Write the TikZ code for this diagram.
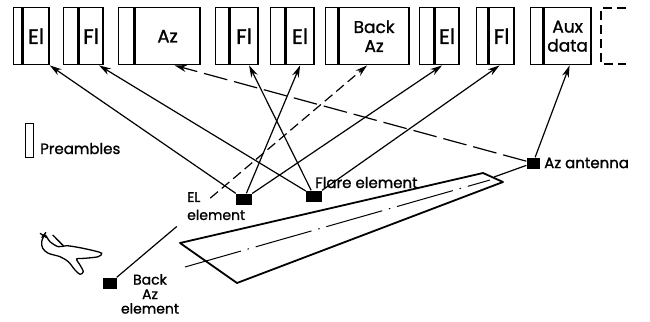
\documentclass[tikz,border=0pt]{standalone}
\usepackage{fontspec}
\setmainfont{Poppins}[FakeBold=1.2]
\usetikzlibrary{arrows.meta, positioning, calc}

\begin{document}
\begin{tikzpicture}[x=1pt, y=-1pt,
    pre/.style={draw=black, line width=1.4pt, minimum height=57pt, inner sep=0pt, anchor=north west},
    slot/.style={draw=black, line width=1.4pt, minimum height=57pt, inner sep=0pt, align=center},
    elem/.style={fill=black, minimum width=16pt, minimum height=11pt, inner sep=0pt},
    wire/.style={line width=1.2pt},
    link/.style={wire, -{Stealth[length=12pt, width=7pt]}},
    tag/.style={font=\fontsize{15}{16}\selectfont, inner sep=0pt}]
    \useasboundingbox (0,0) rectangle (650,321);

    % frame slots: preamble strip + data field
    \foreach \n/\xa/\xb/\xc/\fs/\txt in {1/13/21/47/21/El, 2/63/77/101/21/Fl, 3/118/133/198/18/Az,
        4/215/228/256/21/Fl, 5/270/284/312/21/El, 6/325/337/407/17/{Back\\Az},
        7/419/433/457/21/El, 8/476/487/512/21/Fl, 9/530/542/589/17/{Aux\\data}} {
        \node[pre, minimum width={(\xb-\xa)*1pt}] (pre\n) at (\xa,7) {};
        \node[slot, minimum width={(\xc-\xb)*1pt}, right=0pt of pre\n,
            font=\fontsize{\fs}{19}\selectfont] (box\n) {\txt};
    }
    \draw[line width=1.4pt, dash pattern=on 9pt off 5pt] (626,8) -| (601,64) -- (626,64);

    % legend
    \node[draw=black, line width=1pt, minimum width=8pt, minimum height=34pt, inner sep=0pt] (legbox) at (29,140) {};
    \node[tag, anchor=base west] (leglbl) at (40,154) {Preambles};

    % runway
    \coordinate (rw1) at (180,243);
    \coordinate (rw2) at (483,173);
    \coordinate (rw3) at (503,182);
    \coordinate (rw4) at (237,283);
    \coordinate (rwend) at (494,177);
    \draw[line width=1.8pt, line join=round] (rw1) -- (rw2) -- (rw3) -- (rw4) -- cycle;
    \draw[line width=1pt, dash pattern=on 58pt off 7pt on 1.5pt off 7pt] (185,267) -- (490,180);

    % aircraft
    \draw[line width=1.3pt] plot[smooth cycle, tension=0.5] coordinates {
        (45,235) (50,241.7) (58.3,246.7) (66.7,245.7) (80,247.7) (95,251) (101.7,253.3)
        (98.3,256.7) (85,258.3) (76.7,259) (80,265) (83.3,271.7) (80,274.3) (75,270)
        (68.3,261.7) (60,256.7) (48.3,253.3) (42.7,248.3) (41.7,241.7)};
    \draw[line width=1.3pt] (52.7,235) -- (63.3,245.7);
    \draw[line width=1.3pt] (40,233.3) -- (46.7,237.7) (41.7,237.7) -- (46,232.3);

    % ground elements
    \node[elem] (elev) at (244,199) {};
    \node[elem] (flare) at (314,196) {};
    \node[elem, minimum width=13pt] (azant) at (533,163) {};
    \node[elem, minimum width=14pt] (backaz) at (110,283) {};

    \node[tag, anchor=north west, align=left, font=\fontsize{14}{18}\selectfont] (elevlbl) at (187,192) {EL\\element};
    \node[tag, anchor=base west] (flarelbl) at (315,188) {Flare element};
    \node[tag, anchor=west] (azantlbl) at (544,163) {Az antenna};
    \node[tag, anchor=north, align=center, font=\fontsize{14}{14.5}\selectfont] (backazlbl) at (150,274) {Back\\Az\\element};

    % links to the slots
    \coordinate (t6) at ([xshift=-7pt]box6.south);
    \draw[link] (elev) -- (box1.south east);
    \draw[link] (flare) -- ([xshift=8pt]box2.south);
    \draw[link, dash pattern=on 24pt off 7pt] (azant) -- ([xshift=7pt]box3.south);
    \draw[link] (flare) -- ([xshift=5pt]box4.south);
    \draw[link] (elev) -- (box5.south);
    \draw[wire] (backaz) -- ($(backaz)!0.26!(t6)$);
    \draw[link, dash pattern=on 10pt off 5pt] ($(backaz)!0.39!(t6)$) -- (t6);
    \draw[link] (elev) -- ([xshift=-5pt]box7.south);
    \draw[link] (flare) -- ([xshift=-2pt]box8.south);
    \draw[link] (azant) -- ([xshift=2pt]box9.south);
    \draw[wire] (azant) -- (rwend);
\end{tikzpicture}
\end{document}
